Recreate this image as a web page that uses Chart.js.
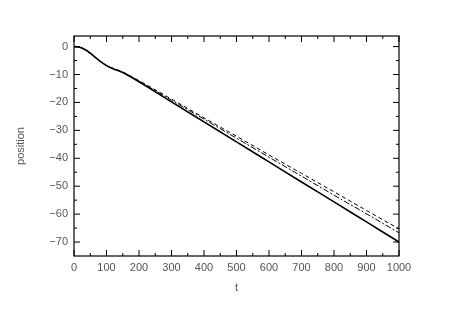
<!DOCTYPE html>
<html>
<head>
<meta charset="utf-8">
<script src="https://cdn.jsdelivr.net/npm/chart.js@4/dist/chart.umd.min.js"></script>
<style>
  html, body { margin: 0; padding: 0; background: #fff; }
  #wrap { width: 449px; height: 317px; }
</style>
</head>
<body>
<div id="wrap"><canvas id="c" width="449" height="317"></canvas></div>
<script>
// data
const tVals      = [0, 20, 40, 60, 80, 100, 120, 150, 200, 300, 400, 500, 600, 700, 800, 900, 1000];
const posSolid   = [0, -0.3, -1.5, -3.3, -5.2, -6.8, -7.9, -9.3, -12.6, -19.8, -26.95, -34.1, -41.3, -48.5, -55.6, -62.8, -70];
const posDashDot = [0, -0.3, -1.5, -3.3, -5.2, -6.8, -7.8, -9.2, -12.4, -19.2, -26.0, -32.8, -39.6, -46.4, -53.2, -59.9, -66.7];
const posDashed  = [0, -0.3, -1.5, -3.3, -5.2, -6.8, -7.8, -9.1, -12.2, -18.8, -25.5, -32.1, -38.8, -45.4, -52.0, -58.7, -65.3];

const xTicks = [0, 100, 200, 300, 400, 500, 600, 700, 800, 900, 1000];
const xMinor = [50, 150, 250, 350, 450, 550, 650, 750, 850, 950];
const yTicks = [0, -10, -20, -30, -40, -50, -60, -70];
const yMinor = [-5, -15, -25, -35, -45, -55, -65];

function pts(ys) {
    return tVals.map((t, i) => ({ x: t, y: ys[i] }));
}

// frame with inward ticks on all four sides
const frame = {
    id: 'frame',
    afterDraw(chart) {
        const ctx = chart.ctx;
        const a = chart.chartArea;
        const xs = chart.scales.x, ys = chart.scales.y;
        ctx.save();
        ctx.strokeStyle = '#000';
        ctx.lineWidth = 1.2;
        ctx.strokeRect(a.left, a.top, a.right - a.left, a.bottom - a.top);
        ctx.lineWidth = 1;
        ctx.beginPath();
        const tick = (x1, y1, x2, y2) => { ctx.moveTo(x1, y1); ctx.lineTo(x2, y2); };
        xTicks.forEach(v => {
            const px = xs.getPixelForValue(v);
            tick(px, a.bottom, px, a.bottom - 6);
            tick(px, a.top, px, a.top + 6);
        });
        xMinor.forEach(v => {
            const px = xs.getPixelForValue(v);
            tick(px, a.bottom, px, a.bottom - 3);
            tick(px, a.top, px, a.top + 3);
        });
        yTicks.forEach(v => {
            const py = ys.getPixelForValue(v);
            tick(a.left, py, a.left + 6, py);
            tick(a.right, py, a.right - 6, py);
        });
        yMinor.forEach(v => {
            const py = ys.getPixelForValue(v);
            tick(a.left, py, a.left + 3, py);
            tick(a.right, py, a.right - 3, py);
        });
        ctx.stroke();
        ctx.restore();
    }
};

const tickFont = { family: 'Liberation Sans', size: 11 };

new Chart(document.getElementById('c'), {
    type: 'line',
    data: {
        datasets: [
            { data: pts(posSolid), borderColor: '#000', borderWidth: 1.6, pointRadius: 0, cubicInterpolationMode: 'monotone' },
            { data: pts(posDashDot), borderColor: '#000', borderWidth: 1, borderDash: [6, 2, 2, 2], pointRadius: 0, cubicInterpolationMode: 'monotone' },
            { data: pts(posDashed), borderColor: '#000', borderWidth: 1, borderDash: [4, 3], pointRadius: 0, cubicInterpolationMode: 'monotone' }
        ]
    },
    options: {
        responsive: false,
        animation: false,
        layout: { padding: { left: 14, right: 50, top: 36, bottom: 22 } },
        plugins: { legend: { display: false }, tooltip: { enabled: false } },
        scales: {
            x: {
                type: 'linear',
                min: 0, max: 1000,
                afterBuildTicks: s => { s.ticks = xTicks.map(v => ({ value: v })); },
                afterFit: s => { s.height = 39; },
                grid: { display: false, drawTicks: false },
                border: { display: false },
                ticks: { color: '#555', font: tickFont, padding: 5, maxRotation: 0, callback: v => String(v) },
                title: { display: true, text: 't', color: '#555', font: tickFont, padding: { top: 2, bottom: 0 } }
            },
            y: {
                type: 'linear',
                min: -75, max: 3.8,
                afterBuildTicks: s => { s.ticks = yTicks.map(v => ({ value: v })); },
                afterFit: s => { s.width = 60; },
                grid: { display: false, drawTicks: false },
                border: { display: false },
                ticks: { color: '#555', font: tickFont, padding: 6, callback: v => v < 0 ? '\u2212' + Math.abs(v) : String(v) },
                title: { display: true, text: 'position', color: '#555', font: tickFont, padding: { top: 0, bottom: 4 } }
            }
        }
    },
    plugins: [frame]
});
</script>
</body>
</html>
